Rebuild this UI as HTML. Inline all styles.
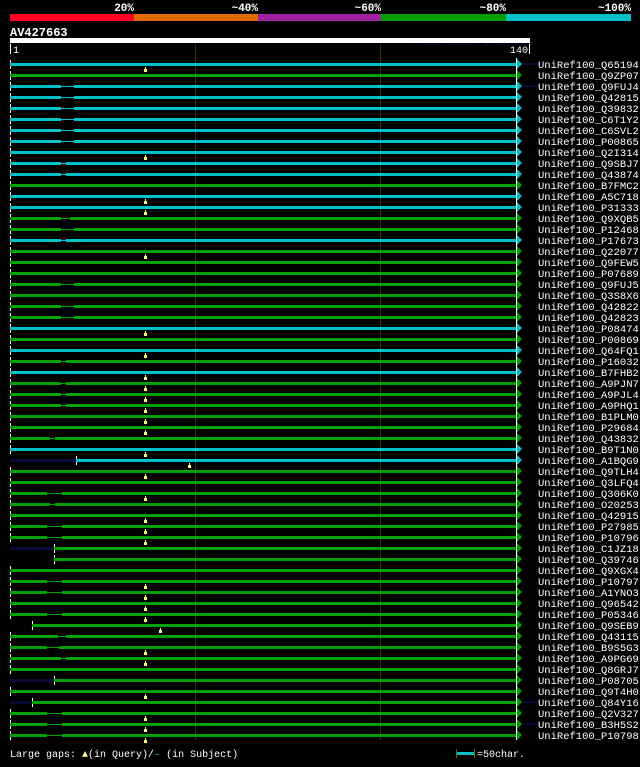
<!DOCTYPE html>
<html><head><meta charset="utf-8"><style>
body{margin:0;background:#000;width:640px;height:762px;overflow:hidden}
svg text{font-family:"Liberation Mono","DejaVu Sans Mono",monospace}
</style></head><body>
<svg id="chart" width="640" height="762" xmlns="http://www.w3.org/2000/svg" shape-rendering="crispEdges">
<rect width="640" height="762" fill="#000"/>
<g>
<rect x="10" y="14" width="124" height="7" fill="#ff0022"/>
<rect x="134" y="14" width="124" height="7" fill="#e06a00"/>
<rect x="258" y="14" width="123" height="7" fill="#a020a0"/>
<rect x="381" y="14" width="125" height="7" fill="#00a000"/>
<rect x="506" y="14" width="125" height="7" fill="#00c0c8"/>
<g fill="#fff" font-size="11" font-weight="bold" text-anchor="end">
<text x="134" y="11">20%</text>
<text x="258" y="11">~40%</text>
<text x="381" y="11">~60%</text>
<text x="506" y="11">~80%</text>
<text x="631" y="11">~100%</text>
</g></g>
<text x="10" y="36" fill="#fff" font-size="12" font-weight="bold">AV427663</text>
<text x="413" y="45" fill="#0a0a50" font-size="9">AlignView.pm Beta rel.7</text>
<rect x="10" y="38" width="520" height="5" fill="#fff"/>
<rect x="10" y="44" width="1" height="10" fill="#fff"/>
<rect x="529" y="44" width="1" height="10" fill="#fff"/>
<text x="13" y="53" fill="#fff" font-size="10">1</text>
<text x="528" y="53" fill="#fff" font-size="10" text-anchor="end">140</text>
<rect x="195" y="44" width="1" height="696" fill="#333300"/>
<rect x="380" y="44" width="1" height="696" fill="#333300"/>
<rect x="516" y="58" width="1" height="682" fill="#fff"/>
<g id="rows"></g>
<g>
<text x="10" y="757" fill="#fff" font-size="10">Large gaps: <tspan fill="#ffff80">▲</tspan>(in Query)/<tspan fill="#00c0c8">–</tspan> (in Subject)</text>
<rect x="456" y="752" width="18" height="3" fill="#00c0c8"/>
<rect x="456" y="749" width="1" height="9" fill="#666600"/>
<rect x="474" y="749" width="1" height="9" fill="#666600"/>
<text x="477" y="757" fill="#fff" font-size="10">=50char.</text>
</g>
</svg>
<script>
const names=["Q65194","Q9ZP07","Q9FUJ4","Q42815","Q39832","C6T1Y2","C6SVL2","P00865","Q2I314","Q9SBJ7","Q43874","B7FMC2","A5C718","P31333","Q9XQB5","P12468","P17673","Q22077","Q9FEW5","P07689","Q9FUJ5","Q3S8X6","Q42822","Q42823","P08474","P00869","Q64FQ1","P16032","B7FHB2","A9PJN7","A9PJL4","A9PHQ1","B1PLM0","P29684","Q43832","B9T1N0","A1BQG9","Q9TLH4","Q3LFQ4","Q306K0","O20253","Q42915","P27985","P10796","C1JZ18","Q39746","Q9XGX4","P10797","A1YNO3","Q96542","P05346","Q9SEB9","Q43115","B9S5G3","A9PG69","Q8GRJ7","P08705","Q9T4H0","Q84Y16","Q2V327","B3H5S2","P10798"];
const colors="cgcccccccccgccggcgggggggcgcgcggggggccggggggggggggggggggggggggg";
const starts=[1,1,1,1,1,1,1,1,1,1,1,1,1,1,1,1,1,1,1,1,1,1,1,1,1,1,1,1,1,1,1,1,1,1,1,1,19.1,1,1,1,1,1,1,1,13.1,13.1,1,1,1,1,1,7,1,1,1,1,13.1,1,7,1,1,1];
const gapStart=[0,0,15,15,15,15,15,15,0,15,15,0,0,0,15,15,15,0,0,0,15,0,15,15,0,0,0,15,0,15,15,15,0,0,12,0,0,0,0,11.2,12,0,11.2,11.2,0,0,0,11.2,11.2,0,11.2,0,14.2,11.2,15,0,0,0,0,11.2,11.2,11.2];
const gapEnd=[0,0,18.6,18.6,18.6,18.6,18.6,18.6,0,16.4,16.4,0,0,0,17.5,18.6,16.4,0,0,0,18.6,0,18.6,18.6,0,0,0,16.4,0,16.4,16.4,16.4,0,0,13.4,0,0,0,0,15.3,13.4,0,15.3,15.3,0,0,0,15.3,15.3,0,15.3,0,16.4,14.5,16.4,0,0,0,0,15.3,15.3,15.3];
const insertPos=[38.1,0,0,0,0,0,0,0,38.1,0,0,0,38.1,38.1,0,0,0,38.1,0,0,0,0,0,0,38.1,0,38.1,0,38.1,38.1,38.1,38.1,38.1,38.1,0,38.1,50.2,38.1,0,38.1,0,38.1,38.1,38.1,0,0,0,38.1,38.1,38.1,38.1,42.2,0,38.1,38.1,0,0,38.1,0,38.1,38.1,38.1];
const darkPrefix=[0,0,0,0,0,0,0,0,0,0,0,0,0,0,0,0,0,0,0,0,0,0,0,0,0,0,0,0,0,0,0,0,0,0,0,0,1,0,0,0,0,0,0,0,1,0,0,0,0,0,0,0,0,0,0,0,1,0,1,0,0,0];
const X0=10,X1=516,LEN=140;
function sx(p){return Math.round(X0+(p-1)*(X1-X0)/(LEN-1));}
const NS="http://www.w3.org/2000/svg",g=document.getElementById('rows');
function mk(t,a){const e=document.createElementNS(NS,t);for(const k in a)e.setAttribute(k,a[k]);g.appendChild(e);return e;}
for(let i=0;i<names.length;i++){
 const y=64+i*11,col=colors[i]==='c'?'#00c0c8':'#00a000';
 const s=sx(starts[i]);
 if(darkPrefix[i]){const d=mk('rect',{x:X0,y:y-1,width:s-X0,height:3,fill:'#0a0a3a'});
  
  }
 const t=mk('rect',{x:s,y:y-4,width:1,height:9,fill:'#fff'});
 
 
 if(gapStart[i]){
  const a=sx(gapStart[i]),b=sx(gapEnd[i]);
  const r1=mk('rect',{x:s,y:y-1,width:a-s,height:3,fill:col});
  
  
  const gl=mk('rect',{x:a,y:y,width:b-a,height:1,fill:col});
  
  
  const r2=mk('rect',{x:b,y:y-1,width:X1-b,height:3,fill:col});
  
  
 } else {
  const r=mk('rect',{x:s,y:y-1,width:X1-s,height:3,fill:col});
  
  
 }
 const ar=mk('path',{d:`M${X1+1},${y-5}L${X1+6},${y}L${X1+1},${y+5}Z`,fill:col,'shape-rendering':'auto'});
 
 
 if(i===0||i===2||i===58||i===60){const st=mk('rect',{x:X1+7,y:y-1,width:16,height:2,fill:'#0a0a3a'});
  
  }
 if(insertPos[i]){const m=sx(insertPos[i]);
  const mm=mk('path',{d:`M${m},${y+3}h1v2h1v3h-3v-3h1z`,fill:'#ffff80'});
  
  }
 const tx=mk('text',{x:538,y:y+4,fill:'#fff','font-size':'10.5'});
 tx.textContent='UniRef100_'+names[i];
 
 
}
</script>
</body></html>
